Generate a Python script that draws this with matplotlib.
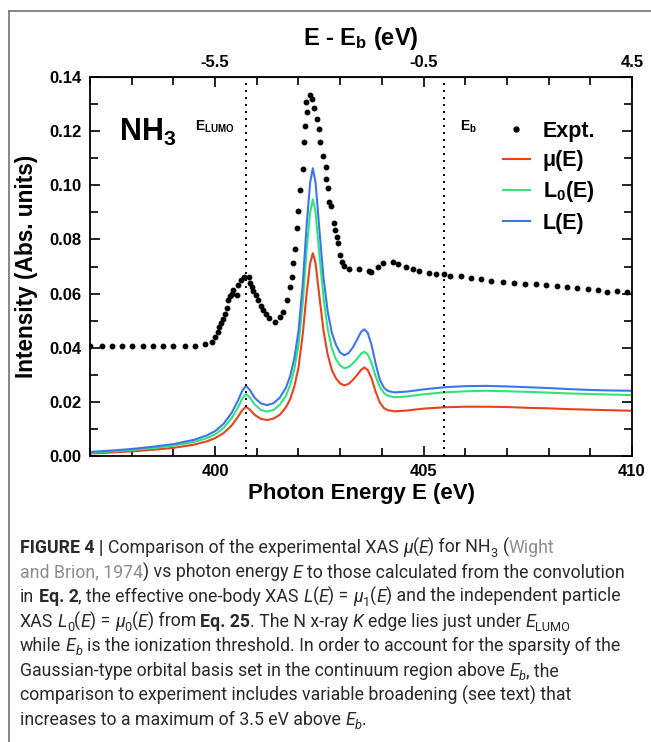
import numpy as np
import matplotlib
matplotlib.use("Agg")
import matplotlib.pyplot as plt
from matplotlib.lines import Line2D
from matplotlib.transforms import IdentityTransform

# experimental points (Wight and Brion)
expt_E = [397.00, 397.29, 397.53, 397.77, 398.01, 398.27, 398.51, 398.75, 398.99, 399.28,
          399.52, 399.76, 399.92, 400.00, 400.06, 400.10, 400.14, 400.18, 400.24, 400.28,
          400.32, 400.36, 400.40, 400.44, 400.52, 400.55, 400.62, 400.70, 400.81, 400.83,
          400.88, 400.92, 400.98, 401.04, 401.10, 401.16, 401.22, 401.30, 401.44, 401.56,
          401.64, 401.72, 401.80, 401.84, 401.88, 401.92, 401.96, 402.00, 402.04, 402.12,
          402.14, 402.16, 402.20, 402.18, 402.28, 402.32, 402.38, 402.44, 402.50, 402.52,
          402.60, 402.66, 402.66, 402.70, 402.74, 402.78, 402.86, 402.88, 402.92, 402.95,
          402.99, 403.05, 403.10, 403.22, 403.46, 403.70, 403.74, 403.91, 404.03, 404.26,
          404.38, 404.58, 404.75, 404.90, 405.14, 405.30, 405.49, 405.63, 405.89, 406.13,
          406.39, 406.63, 406.90, 407.17, 407.43, 407.69, 407.94, 408.19, 408.43, 408.69,
          408.94, 409.19, 409.39, 409.63, 409.87]
expt_I = [0.0405, 0.0405, 0.0405, 0.0405, 0.0405, 0.0405, 0.0405, 0.0405, 0.0405, 0.0405,
          0.0407, 0.0413, 0.0422, 0.0441, 0.0459, 0.0475, 0.0490, 0.0505, 0.0525, 0.0545,
          0.0575, 0.0592, 0.0600, 0.0613, 0.0595, 0.0632, 0.0650, 0.0662, 0.0662, 0.0640,
          0.0625, 0.0610, 0.0595, 0.0575, 0.0555, 0.0540, 0.0525, 0.0508, 0.0496, 0.0512,
          0.0533, 0.0576, 0.0625, 0.0662, 0.0714, 0.0765, 0.0843, 0.0906, 0.0983, 0.1059,
          0.1161, 0.1220, 0.1272, 0.1309, 0.1334, 0.1320, 0.1287, 0.1244, 0.1208, 0.1161,
          0.1110, 0.1069, 0.1022, 0.0990, 0.0939, 0.0925, 0.0860, 0.0835, 0.0810, 0.0786,
          0.0742, 0.0718, 0.0703, 0.0690, 0.0691, 0.0685, 0.0680, 0.0697, 0.0714, 0.0715,
          0.0708, 0.0697, 0.0691, 0.0682, 0.0677, 0.0674, 0.0671, 0.0666, 0.0664, 0.0658,
          0.0653, 0.0648, 0.0643, 0.0639, 0.0636, 0.0634, 0.0630, 0.0627, 0.0624, 0.0619,
          0.0616, 0.0613, 0.0607, 0.0611, 0.0607]

# calculated spectra
calc_E = [397.0, 397.5, 398.0, 398.5, 399.0, 399.5, 399.8, 400.0, 400.2, 400.4,
          400.55, 400.65, 400.74, 400.83, 400.95, 401.1, 401.25, 401.4, 401.55, 401.7,
          401.8, 401.9, 402.0, 402.1, 402.2, 402.28, 402.345, 402.41, 402.5, 402.6,
          402.7, 402.8, 402.9, 403.0, 403.1, 403.2, 403.3, 403.4, 403.5, 403.58,
          403.66, 403.75, 403.85, 403.95, 404.05, 404.15, 404.3, 404.6, 405.0, 405.5,
          406.0, 406.5, 407.0, 407.5, 408.0, 408.5, 409.0, 409.5, 410.0]
L_E = [0.0015, 0.0020, 0.0026, 0.0034, 0.0044, 0.0060, 0.0076, 0.0092, 0.0118, 0.0160,
       0.0205, 0.0240, 0.0259, 0.0245, 0.0215, 0.0194, 0.0188, 0.0195, 0.0215, 0.0252,
       0.0295, 0.0360, 0.0460, 0.0630, 0.0860, 0.1010, 0.1063, 0.1010, 0.0840, 0.0660,
       0.0535, 0.0455, 0.0410, 0.0382, 0.0372, 0.0380, 0.0400, 0.0428, 0.0458, 0.0468,
       0.0455, 0.0412, 0.0342, 0.0282, 0.0252, 0.0240, 0.0235, 0.0238, 0.0246, 0.0254,
       0.0258, 0.0259, 0.0257, 0.0254, 0.0251, 0.0247, 0.0244, 0.0242, 0.0241]
L0_E = [0.0012, 0.0017, 0.0022, 0.0029, 0.0038, 0.0052, 0.0066, 0.0080, 0.0103, 0.0140,
        0.0180, 0.0212, 0.0229, 0.0217, 0.0190, 0.0170, 0.0164, 0.0170, 0.0189, 0.0222,
        0.0262, 0.0320, 0.0410, 0.0562, 0.0768, 0.0900, 0.0948, 0.0900, 0.0748, 0.0585,
        0.0470, 0.0398, 0.0357, 0.0334, 0.0324, 0.0328, 0.0341, 0.0358, 0.0378, 0.0385,
        0.0376, 0.0345, 0.0295, 0.0255, 0.0233, 0.0222, 0.0217, 0.0220, 0.0228, 0.0235,
        0.0239, 0.0241, 0.0239, 0.0237, 0.0234, 0.0231, 0.0229, 0.0227, 0.0225]
mu_E = [0.0009, 0.0013, 0.0017, 0.0023, 0.0030, 0.0042, 0.0054, 0.0066, 0.0084, 0.0113,
        0.0145, 0.0169, 0.0182, 0.0172, 0.0152, 0.0137, 0.0133, 0.0138, 0.0152, 0.0180,
        0.0210, 0.0256, 0.0326, 0.0446, 0.0606, 0.0712, 0.0749, 0.0712, 0.0592, 0.0464,
        0.0375, 0.0318, 0.0287, 0.0268, 0.0261, 0.0266, 0.0280, 0.0298, 0.0318, 0.0327,
        0.0318, 0.0288, 0.0238, 0.0198, 0.0177, 0.0169, 0.0165, 0.0168, 0.0175, 0.0180,
        0.0182, 0.0182, 0.0181, 0.0178, 0.0176, 0.0173, 0.0171, 0.0169, 0.0167]

E_lumo = 400.74
E_b = 405.5

plt.rcParams['font.family'] = ['Liberation Sans', 'DejaVu Sans']
plt.rcParams['font.weight'] = 'bold'
plt.rcParams['axes.labelweight'] = 'bold'
plt.rcParams['axes.unicode_minus'] = False
plt.rcParams['mathtext.fontset'] = 'custom'
plt.rcParams['mathtext.rm'] = 'Liberation Sans:bold'
plt.rcParams['mathtext.it'] = 'Liberation Sans:bold'
plt.rcParams['mathtext.bf'] = 'Liberation Sans:bold'

W, H = 651, 742
fig = plt.figure(figsize=(W / 100, H / 100), dpi=100)
ax = fig.add_axes([90 / W, 286 / H, 542 / W, 379 / H])

ax.plot(expt_E, expt_I, ls='none', marker='o', ms=3.2, color='black', label='Expt.')
ax.plot(calc_E, mu_E, color='#e8421c', lw=1.5, label='μ(E)')
ax.plot(calc_E, L0_E, color='#2fe57a', lw=1.5, label='L$_0$(E)')
ax.plot(calc_E, L_E, color='#3d74f0', lw=1.5, label='L(E)')

ax.axvline(E_lumo, color='black', lw=1.4, ls=(0, (1, 2.6)))
ax.axvline(E_b, color='black', lw=1.4, ls=(0, (1, 2.6)))

ax.set_xlim(397, 410)
ax.set_ylim(0, 0.14)
ax.set_xticks([400, 405, 410])
ax.set_xticks(np.arange(397, 411, 1), minor=True)
ax.set_yticks(np.arange(0, 0.141, 0.02))
ax.set_yticks(np.arange(0, 0.141, 0.01), minor=True)
ax.yaxis.set_major_formatter(plt.FormatStrFormatter('%.2f'))
ax.tick_params(which='both', direction='in', top=False, right=True, width=1.2,
               labelsize=12, pad=6)
ax.tick_params(which='major', length=7)
ax.tick_params(which='minor', length=6)
for s in ax.spines.values():
    s.set_linewidth(1.3)

sec = ax.secondary_xaxis('top', functions=(lambda x: x - E_b, lambda x: x + E_b))
sec.set_xticks([-5.5, -0.5, 4.5])
sec.set_xticks(np.arange(-8.5, 4.6, 1), minor=True)
sec.xaxis.set_major_formatter(plt.FormatStrFormatter('%.1f'))
sec.tick_params(which='both', direction='in', width=1.2, labelsize=12, pad=5)
sec.tick_params(which='major', length=7)
sec.tick_params(which='minor', length=6)
sec.set_xlabel('E - E$_\\mathregular{b}$ (eV)', fontsize=17, fontweight='bold', labelpad=7)

ax.set_xlabel('Photon Energy E (eV)', fontsize=16, fontweight='bold', labelpad=3)
ax.set_ylabel('Intensity (Abs. units)', fontsize=16.3, fontweight='bold', labelpad=8)

ax.text(397.7, 0.1195, 'NH$_3$', fontsize=22, va='center')
ax.text(399.52, 0.1215, 'E$_{\\mathregular{LUMO}}$', fontsize=10, va='center')
ax.text(405.88, 0.1215, 'E$_{\\mathregular{b}}$', fontsize=10, va='center')

ax.legend(loc='upper left', bbox_to_anchor=(503 / W, 1 - 121 / H), bbox_transform=fig.transFigure,
          frameon=False, fontsize=15.5, handlelength=1.25, handletextpad=0.6,
          labelspacing=0.38, borderpad=0, borderaxespad=0, markerscale=1.1)

# frame lines of the figure panel
fig.add_artist(Line2D([9, W], [H - 11, H - 11], transform=IdentityTransform(), color='#666666', lw=1.1))
fig.add_artist(Line2D([9, 9], [0, H - 11], transform=IdentityTransform(), color='#666666', lw=1.1))

# caption, drawn piece by piece
cap_font = 'Roboto'
cap_size = 12.75
ink = '#2a2a2a'
grey = '#8e8e8e'
renderer = fig.canvas.get_renderer()


def width_of(s, **kw):
    t = fig.text(0, 0, s, transform=IdentityTransform(), **kw)
    w = t.get_window_extent(renderer).width
    t.remove()
    return w


def caption_line(y_base, parts):
    x = 20.0
    base = H - y_base
    for txt, style in parts:
        kw = dict(family=cap_font, fontsize=cap_size, color=ink, weight='normal')
        dy = 0
        if 'b' in style:
            kw['weight'] = 'bold'
        if 'i' in style:
            kw['style'] = 'italic'
        if 'g' in style:
            kw['color'] = grey
        if 's' in style:
            kw['fontsize'] = cap_size * 0.72
            dy = -4
        sp = width_of('a a', **kw) - width_of('aa', **kw)
        lead = len(txt) - len(txt.lstrip(' '))
        trail = len(txt) - len(txt.rstrip(' '))
        core = txt.strip(' ')
        x += lead * sp
        if core:
            fig.text(x, base + dy, core, transform=IdentityTransform(), ha='left', va='baseline', **kw)
            x += width_of(core, **kw)
        x += trail * sp


lines = [
    [('FIGURE 4 |', 'b'), (' Comparison of the experimental XAS ', ''), ('μ', 'i'), ('(', ''),
     ('E', 'i'), (') for NH', ''), ('3', 's'), (' (', ''), ('Wight', 'g')],
    [('and Brion, 1974', 'g'), (') vs photon energy ', ''), ('E', 'i'),
     (' to those calculated from the convolution', '')],
    [('in ', ''), ('Eq. 2', 'b'), (', the effective one-body XAS ', ''), ('L', 'i'), ('(', ''),
     ('E', 'i'), (') = ', ''), ('μ', 'i'), ('1', 's'), ('(', ''), ('E', 'i'),
     (') and the independent particle', '')],
    [('XAS ', ''), ('L', 'i'), ('0', 's'), ('(', ''), ('E', 'i'), (') = ', ''), ('μ', 'i'),
     ('0', 's'), ('(', ''), ('E', 'i'), (') from ', ''), ('Eq. 25', 'b'), ('. The N x-ray ', ''),
     ('K', 'i'), (' edge lies just under ', ''), ('E', 'i'), ('LUMO', 's')],
    [('while ', ''), ('E', 'i'), ('b', 'is'),
     (' is the ionization threshold. In order to account for the sparsity of the', '')],
    [('Gaussian-type orbital basis set in the continuum region above ', ''), ('E', 'i'),
     ('b', 'is'), (', the', '')],
    [('comparison to experiment includes variable broadening (see text) that', '')],
    [('increases to a maximum of 3.5 eV above ', ''), ('E', 'i'), ('b', 'is'), ('.', '')],
]
for k, parts in enumerate(lines):
    caption_line(553 + 24.6 * k, parts)

fig.savefig('out.png', dpi=100)
